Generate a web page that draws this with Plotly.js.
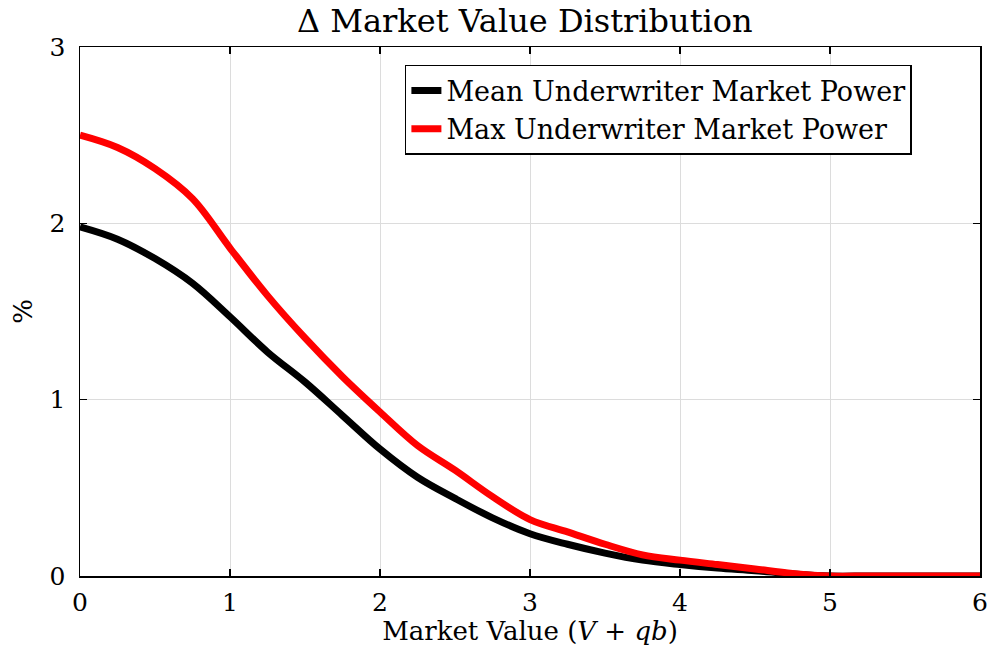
<!DOCTYPE html>
<html>
<head>
<meta charset="utf-8">
<script src="https://cdn.plot.ly/plotly-3.0.1.min.js"></script>
<style>html,body{margin:0;padding:0;background:#fff;}#chart{width:992px;height:656px;}</style>
</head>
<body>
<div id="chart"></div>
<script>
const xValues = [0,0.25,0.5,0.75,1.0,1.25,1.5,1.75,2.0,2.25,2.5,2.75,3.0,3.25,3.5,3.75,4.0,4.25,4.5,4.75,5.0,5.25,5.5,5.75,6.0];
const meanPower = [1.98,1.91,1.80,1.66,1.47,1.27,1.10,0.91,0.72,0.56,0.44,0.33,0.24,0.18,0.13,0.09,0.065,0.045,0.03,0.012,0,0,0,0,0];
const maxPower  = [2.50,2.43,2.31,2.14,1.86,1.59,1.35,1.13,0.93,0.74,0.60,0.45,0.32,0.25,0.18,0.12,0.09,0.065,0.04,0.015,0,0,0,0,0];
const seriesNames = ["Mean Underwriter Market Power","Max Underwriter Market Power"];
const xTicks = [0,1,2,3,4,5,6];
const yTicks = [0,1,2,3];

const FONT = "DejaVu Serif";
const traces = [
  {x:xValues, y:meanPower, name:seriesNames[0], type:"scatter", mode:"lines",
   line:{color:"#000000", width:7, shape:"spline", smoothing:1}},
  {x:xValues, y:maxPower, name:seriesNames[1], type:"scatter", mode:"lines",
   line:{color:"#ff0000", width:7, shape:"spline", smoothing:1}}
];
const axisCommon = {
  showline:true, linecolor:"#000", linewidth:1.5, mirror:"allticks",
  ticks:"inside", ticklen:7, tickwidth:1.5, tickcolor:"#000",
  showgrid:true, gridcolor:"#dcdcdc", gridwidth:1, zeroline:false,
  tickfont:{family:FONT, size:25, color:"#000"}
};
const layout = {
  width:992, height:656,
  margin:{l:80, r:12, t:47, b:80},
  paper_bgcolor:"#fff", plot_bgcolor:"#fff",
  font:{family:FONT, color:"#000"},
  title:{text:"Δ Market Value Distribution", x:0.529, xanchor:"center", y:0.968, yanchor:"middle",
         font:{family:FONT, size:32, color:"#000"}},
  xaxis:Object.assign({}, axisCommon, {range:[0,6], tickvals:xTicks, ticktext:xTicks.map(String),
    ticklabelstandoff:3,
    title:{text:"Market Value (<i>V</i> + <i>qb</i>)", font:{family:FONT, size:26, color:"#000"}, standoff:3}}),
  yaxis:Object.assign({}, axisCommon, {range:[0,3], tickvals:yTicks, ticktext:yTicks.map(String),
    ticklabelstandoff:8,
    title:{text:"%", font:{family:FONT, size:26, color:"#000"}, standoff:9}}),
  showlegend:true,
  legend:{x:0.361, y:0.966, xanchor:"left", yanchor:"top",
    bgcolor:"#fff", bordercolor:"#000", borderwidth:1.5,
    font:{family:FONT, size:27, color:"#000"}, tracegroupgap:0}
};
Plotly.newPlot("chart", traces, layout, {displayModeBar:false, staticPlot:true});
</script>
</body>
</html>
